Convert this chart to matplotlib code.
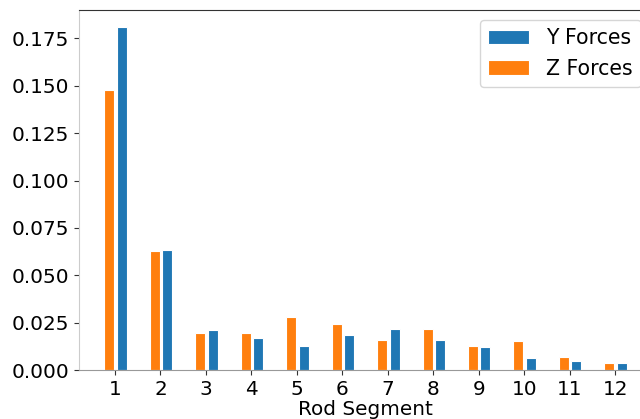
import numpy as np
import matplotlib
matplotlib.use('Agg')
import matplotlib.pyplot as plt

segments = np.arange(1, 13)
y_forces = [0.181, 0.0633, 0.0211, 0.0171, 0.0125, 0.0185, 0.0215, 0.0157, 0.0120, 0.0062, 0.0047, 0.0035]
z_forces = [0.148, 0.0628, 0.0194, 0.0195, 0.0278, 0.0243, 0.0158, 0.0215, 0.0125, 0.0153, 0.0070, 0.0035]

plt.rcParams['font.family'] = 'DejaVu Sans'
plt.rcParams['font.size'] = 14.4

fig = plt.figure(figsize=(6.4, 4.19), dpi=100)
ax = fig.add_axes([79/640, 49/419, 572/640, 360/419])

ax.bar(segments + 0.15, y_forces, width=0.22, color='#1f77b4', edgecolor='white', lw=0.8, label='Y Forces')
ax.bar(segments - 0.125, z_forces, width=0.22, color='#ff7f0e', edgecolor='white', lw=0.8, label='Z Forces')

ax.set_xticks(segments)
ax.set_xlim(0.21, 12.79)
ax.set_ylim(0, 0.19)
ax.set_yticks(np.arange(0, 0.176, 0.025))
ax.set_xlabel('Rod Segment', labelpad=1)

ax.spines['left'].set_color('#cccccc')
ax.spines['bottom'].set_color('#999999')
ax.spines['top'].set_color('#333333')
ax.tick_params(colors='#333333', labelcolor='black')

ax.legend(loc='upper right', fontsize=14.8)

fig.savefig('out.png', dpi=100)
